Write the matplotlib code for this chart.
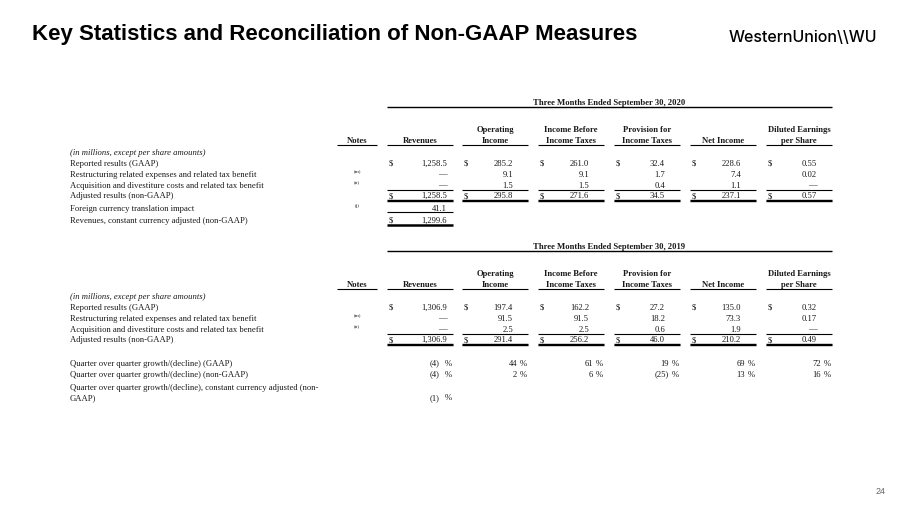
import matplotlib.pyplot as plt

# ---- data ----
col_heads = [("", "Revenues"), ("Operating", "Income"), ("Income Before", "Income Taxes"),
             ("Provision for", "Income Taxes"), ("", "Net Income"), ("Diluted Earnings", "per Share")]
row_labels = ["Reported results (GAAP)",
              "Restructuring related expenses and related tax benefit",
              "Acquisition and divestiture costs and related tax benefit",
              "Adjusted results (non-GAAP)"]
row_notes = ["", "(m)", "(n)", ""]

rev_2020 = [1258.5, None, None, 1258.5]
opinc_2020 = [285.2, 9.1, 1.5, 295.8]
ibt_2020 = [261.0, 9.1, 1.5, 271.6]
tax_2020 = [32.4, 1.7, 0.4, 34.5]
netinc_2020 = [228.6, 7.4, 1.1, 237.1]
eps_2020 = [0.55, 0.02, None, 0.57]
fx_impact_2020 = 41.1
rev_cc_2020 = 1299.6

rev_2019 = [1306.9, None, None, 1306.9]
opinc_2019 = [197.4, 91.5, 2.5, 291.4]
ibt_2019 = [162.2, 91.5, 2.5, 256.2]
tax_2019 = [27.2, 18.2, 0.6, 46.0]
netinc_2019 = [135.0, 73.3, 1.9, 210.2]
eps_2019 = [0.32, 0.17, None, 0.49]

growth_labels = ["Quarter over quarter growth/(decline) (GAAP)",
                 "Quarter over quarter growth/(decline) (non-GAAP)",
                 "Quarter over quarter growth/(decline), constant currency adjusted (non-\nGAAP)"]
growth_gaap = [-4, 44, 61, 19, 69, 72]
growth_nongaap = [-4, 2, 6, -25, 13, 16]
growth_cc = [-1]

# ---- layout ----
col_left = [387, 462, 538, 614, 690, 766]
col_w = 66
notes_l, notes_r = 337, 377
label_x = 70
txt = "#1a1a1a"
serif = ["Liberation Serif", "DejaVu Serif"]
fs = 6.2
base = 2.6  # row centre -> baseline

fig = plt.figure(figsize=(9, 5.06), dpi=100)
ax = fig.add_axes([0, 0, 1, 1])
ax.set_xlim(0, 900)
ax.set_ylim(506, 0)
ax.axis("off")


def t(x, y, s, ha="left", size=fs, **kw):
    ax.text(x, y + base, s, ha=ha, va="baseline", fontsize=size, family=serif, color=txt, **kw)


def hl(x0, x1, y, lw=0.8):
    ax.plot([x0, x1], [y, y], color="black", lw=lw, solid_capstyle="butt")


def fmt(v, j):
    if v is None:
        return "\u2014"
    if j == 5:
        return f"{v:.2f}"
    return f"{v:,.1f}"


def num_right(j):
    return col_left[j] + col_w - (6 if j == 0 else 15)


def table(top, title, cols):
    # top = y of the period title
    t((col_left[0] + col_left[-1] + col_w) / 2, top, title, ha="center", weight="bold")
    hl(col_left[0], col_left[-1] + col_w, top + 6, lw=1.0)
    h1, h2, ul = top + 27, top + 38, top + 44
    t((notes_l + notes_r) / 2, h2, "Notes", ha="center", weight="bold")
    hl(notes_l, notes_r, ul)
    for j, (a, b) in enumerate(col_heads):
        cx = col_left[j] + col_w / 2
        if a:
            t(cx, h1, a, ha="center", weight="bold")
        t(cx, h2, b, ha="center", weight="bold")
        hl(col_left[j], col_left[j] + col_w, ul)
    t(label_x, top + 50, "(in millions, except per share amounts)", style="italic")
    ys = [top + 61, top + 72, top + 83, top + 93.5]
    for i, lab in enumerate(row_labels):
        t(label_x, ys[i], lab)
        if row_notes[i]:
            t((notes_l + notes_r) / 2, ys[i] - 4, row_notes[i], ha="center", size=3.8)
        for j, vals in enumerate(cols):
            if i in (0, 3):
                t(col_left[j] + 2, ys[i], "$")
            t(num_right(j), ys[i], fmt(vals[i], j), ha="right")
    for j in range(len(cols)):
        hl(col_left[j], col_left[j] + col_w, ys[2] + 5.5)
        hl(col_left[j], col_left[j] + col_w, ys[3] + 5.2, lw=1.0)
        hl(col_left[j], col_left[j] + col_w, ys[3] + 6.6, lw=1.0)
    return ys


# ---- figure text ----
ax.text(32, 39.5, "Key Statistics and Reconciliation of Non-GAAP Measures", fontsize=16,
        weight="bold", family=["Liberation Sans", "DejaVu Sans"], color="black", va="baseline")
ax.text(877, 37, "WesternUnion\\\\WU", fontsize=11.5, weight="medium", family=["Inter", "DejaVu Sans"],
        color="black", va="center", ha="right")
ax.text(886, 492, "24", fontsize=6.5, family=["Liberation Sans", "DejaVu Sans"], color="#666666",
        va="center", ha="right")

# 2020 table
ys = table(102, "Three Months Ended September 30, 2020",
           [rev_2020, opinc_2020, ibt_2020, tax_2020, netinc_2020, eps_2020])
y_fx, y_cc = 208, 220
t(label_x, y_fx, "Foreign currency translation impact")
t((notes_l + notes_r) / 2, y_fx - 4, "(j)", ha="center", size=3.8)
t(num_right(0), y_fx, f"{fx_impact_2020:,.1f}", ha="right")
hl(col_left[0], col_left[0] + col_w, y_fx + 5)
t(label_x, y_cc, "Revenues, constant currency adjusted (non-GAAP)")
t(col_left[0] + 2, y_cc, "$")
t(num_right(0), y_cc, f"{rev_cc_2020:,.1f}", ha="right")
hl(col_left[0], col_left[0] + col_w, y_cc + 5.5, lw=1.8)

# 2019 table
ys = table(246, "Three Months Ended September 30, 2019",
           [rev_2019, opinc_2019, ibt_2019, tax_2019, netinc_2019, eps_2019])


def pct(v):
    return f"({-v})" if v < 0 else f"{v}"


gy = [363, 374, 387]
for i, series in enumerate([growth_gaap, growth_nongaap, growth_cc]):
    lines = growth_labels[i].split("\n")
    for k, ln in enumerate(lines):
        t(label_x, gy[i] + 10.5 * k, ln)
    yv = gy[i] + 10.5 * (len(lines) - 1)
    for j, v in enumerate(series):
        r = col_left[j] + col_w
        t(r - 11 - (2 if j == 0 else 0), yv, pct(v), ha="right")
        t(r - 1, yv, "%", ha="right")

fig.savefig("out.png", dpi=100)
